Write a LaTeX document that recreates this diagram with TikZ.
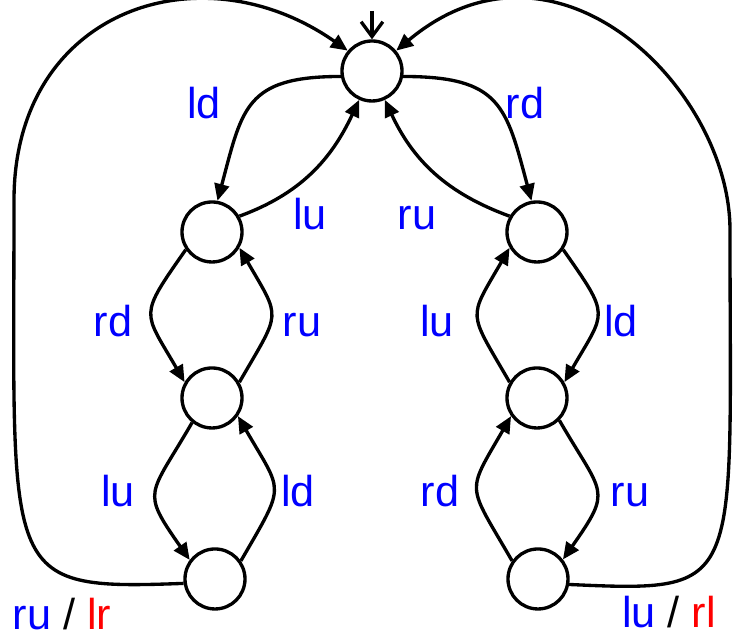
\documentclass[tikz,border=0pt]{standalone}
\usepackage{fontspec}
\setmainfont{Liberation Sans}
\usetikzlibrary{arrows.meta}
\begin{document}
\begin{tikzpicture}[line width=0.95pt, >={Triangle[length=4.8pt,width=4.2pt]},
  st/.style={draw,circle,minimum size=0.6cm,inner sep=0pt},
  lbl/.style={font=\fontsize{12.3}{14}\selectfont,text=blue,anchor=base,inner sep=0pt}]
\useasboundingbox (0,0) rectangle (7.35,6.36);
\node[st] (top) at (3.72,5.65) {};
\node[st] (l1) at (2.12,4.04) {};
\node[st] (l2) at (2.12,2.38) {};
\node[st] (l3) at (2.15,0.57) {};
\node[st] (r1) at (5.37,4.04) {};
\node[st] (r2) at (5.37,2.38) {};
\node[st] (r3) at (5.38,0.57) {};
\coordinate (init) at (3.72,6.25);
\coordinate (lwall) at (0.14,4.36);
\coordinate (rwall) at (7.30,4.06);
% start arrow
\draw[-{Straight Barb[length=4.2pt,width=6.2pt]}] (init) -- (top.north);
% top <-> first pair
\draw[->] (top.190) to[out=180,in=75,looseness=1.4] (l1.80) node[lbl] at (2.04,5.17) {ld};
\draw[->] (l1.30) to[out=20,in=-115] (top.-114) node[lbl] at (3.10,4.06) {lu};
\draw[->] (top.-10) to[out=0,in=105,looseness=1.4] (r1.100) node[lbl] at (5.25,5.17) {rd};
\draw[->] (r1.150) to[out=160,in=-65] (top.-66) node[lbl] at (4.17,4.06) {ru};
% left column
\draw[->] (l1.-146) to[out=-125,in=120,looseness=1.6] (l2.150) node[lbl] at (1.13,2.99) {rd};
\draw[->] (l2.30) to[out=60,in=-60,looseness=1.6] (l1.-30) node[lbl] at (3.02,2.99) {ru};
\draw[->] (l2.-129) to[out=-120,in=125,looseness=1.6] (l3.143) node[lbl] at (1.18,1.29) {lu};
\draw[->] (l3.35) to[out=60,in=-60,looseness=1.6] (l2.-35) node[lbl] at (2.98,1.29) {ld};
% right column
\draw[->] (r1.-34) to[out=-55,in=60,looseness=1.6] (r2.30) node[lbl] at (6.21,2.99) {ld};
\draw[->] (r2.150) to[out=120,in=-120,looseness=1.6] (r1.-150) node[lbl] at (4.37,2.99) {lu};
\draw[->] (r2.-45) to[out=-60,in=55,looseness=1.6] (r3.38) node[lbl] at (6.30,1.29) {ru};
\draw[->] (r3.145) to[out=120,in=-120,looseness=1.6] (r2.-145) node[lbl] at (4.40,1.29) {rd};
% outer loops
\draw[->] (l3.188) .. controls +(-1.85,-0.07) and +(0,-3.8) .. (lwall)
  .. controls +(0,1.9) and +(145:1.8) .. (top.140)
  node[lbl,text=black] at (0.62,0.06) {\textcolor{blue}{ru} / \textcolor{red}{lr}};
\draw[->] (r3.-10) .. controls +(1.77,-0.08) and +(0,-3.6) .. (rwall)
  .. controls +(0,1.4) and +(40:2.1) .. (top.40)
  node[lbl,text=black] at (6.69,0.08) {\textcolor{blue}{lu} / \textcolor{red}{rl}};
\end{tikzpicture}
\end{document}
